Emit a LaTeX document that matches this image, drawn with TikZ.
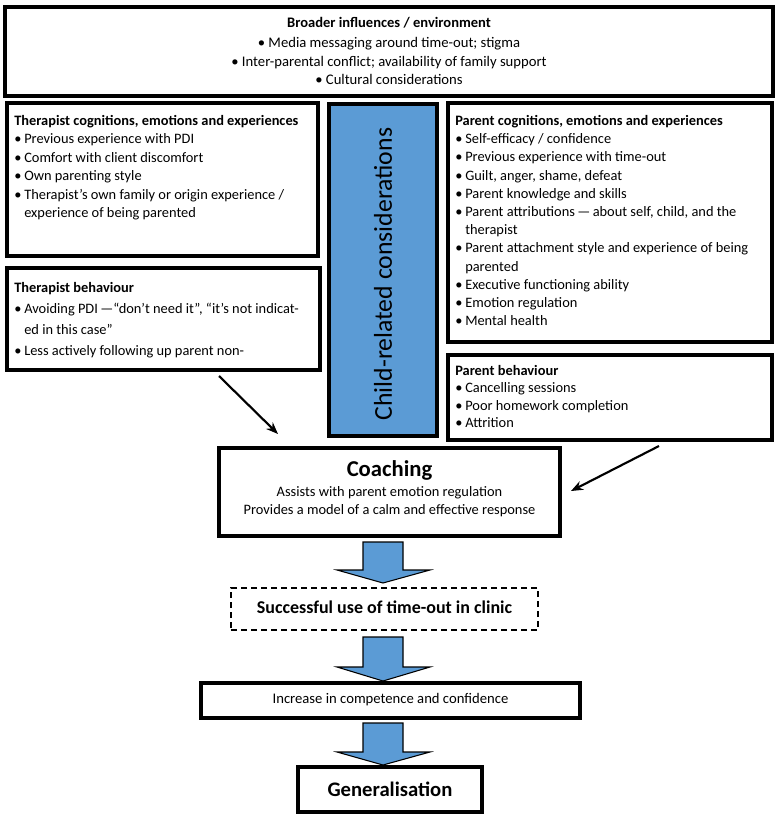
\documentclass[tikz,border=0pt]{standalone}
\usepackage{fontspec}
\setmainfont{Carlito}
\usetikzlibrary{arrows.meta,fit}
\definecolor{cblue}{RGB}{91,155,213}
\newcommand{\bul}{\makebox[7.5pt][l]{\textbullet}}
\newcommand{\ind}{\hspace*{7.5pt}}
\begin{document}
\begin{tikzpicture}[x=0.75pt,y=-0.75pt]
\useasboundingbox (0,0) rectangle (779,819);
\tikzset{
  frame/.style={draw=black, line width=3pt, inner sep=0pt},
  thinframe/.style={draw=black, line width=2.3pt, inner sep=0pt},
  dashframe/.style={draw=black, line width=1pt, dashed, dash pattern=on 4.5pt off 3pt, inner sep=0pt},
  listtxt/.style={anchor=north west, inner sep=0pt, align=left, font=\fontsize{10.8}{13.8}\selectfont},
  ctxt/.style={inner sep=0pt, align=center},
  conn/.style={line width=1.6pt, -{Stealth[length=9pt,width=7pt]}},
  blockarrow/.style={fill=cblue, draw=black, line width=0.8pt, line join=miter}
}
% top box
\node[frame, line width=3.2pt, fit={(5,7) (773,96)}] (broad) {};
\node[ctxt, font=\fontsize{10.9}{13.5}\bfseries] (broadtitle) at (389,23) {Broader influences / environment};
\node[ctxt, font=\fontsize{11}{13.65}\selectfont] (broadtxt) at (389,61)
  {\textbullet\ Media messaging around time-out; stigma\\
   \textbullet\ Inter-parental conflict; availability of family support\\
   \textbullet\ Cultural considerations};

% therapist cognitions
\node[frame, fit={(7,103) (318,256)}] (tc) {};
\node[listtxt] (tctxt) at (14,115)
  {\textbf{Therapist cognitions, emotions and experiences}\\
   \bul Previous experience with PDI\\
   \bul Comfort with client discomfort\\
   \bul Own parenting style\\
   \bul Therapist’s own family or origin experience /\\
   \ind experience of being parented};

% therapist behaviour
\node[frame, fit={(7,268) (320,370)}] (tb) {};
\node[listtxt, font=\fontsize{10.8}{15.75}\selectfont] (tbtxt) at (14,282)
  {\textbf{Therapist behaviour}\\
   \bul Avoiding PDI\,—“don’t need it”, “it’s not indicat-\\
   \ind ed in this case”\\
   \bul Less actively following up parent non-};

% child-related
\node[frame, fill=cblue, fit={(329,104) (437,436)}] (child) {};
\node[ctxt, rotate=90, font=\fontsize{19.3}{22}\selectfont] (childtxt) at (383,274) {Child-related considerations};

% parent cognitions
\node[frame, fit={(448,103) (772,342)}] (pc) {};
\node[listtxt, font=\fontsize{10.8}{13.65}\selectfont] (pctxt) at (455,115)
  {\textbf{Parent cognitions, emotions and experiences}\\
   \bul Self-efficacy / confidence\\
   \bul Previous experience with time-out\\
   \bul Guilt, anger, shame, defeat\\
   \bul Parent knowledge and skills\\
   \bul Parent attributions\,—\,about self, child, and the\\
   \ind therapist\\
   \bul Parent attachment style and experience of being\\
   \ind parented\\
   \bul Executive functioning ability\\
   \bul Emotion regulation\\
   \bul Mental health};

% parent behaviour
\node[frame, fit={(448,355) (772,440)}] (pb) {};
\node[listtxt, font=\fontsize{10.8}{13}\selectfont] (pbtxt) at (455,365)
  {\textbf{Parent behaviour}\\
   \bul Cancelling sessions\\
   \bul Poor homework completion\\
   \bul Attrition};

% coaching
\node[frame, fit={(219,448) (560,536)}] (coach) {};
\node[ctxt, font=\fontsize{17}{20}\bfseries] (coachtitle) at (389.5,470) {Coaching};
\node[ctxt, font=\fontsize{10.8}{13.5}\selectfont] (coachl1) at (389.5,493) {Assists with parent emotion regulation};
\node[ctxt, font=\fontsize{10.8}{13.5}\selectfont] (coachl2) at (389.5,511) {Provides a model of a calm and effective response};

% thin arrows
\coordinate (tbout) at (219,376);
\coordinate (coachinL) at (278,434);
\draw[conn] (tbout) -- (coachinL);
\coordinate (pbout) at (659,446);
\coordinate (coachinR) at (571,491);
\draw[conn] (pbout) -- (coachinR);

% block arrow 1
\draw[blockarrow] (363,542) -- (403,542) -- (403,570) -- (430,570) -- (383,583) -- (337,570) -- (363,570) -- cycle;

% successful
\node[dashframe, fit={(231,588) (538,630)}] (succ) {};
\node[ctxt, font=\fontsize{13.5}{16}\bfseries] (succtxt) at (384.5,607) {Successful use of time-out in clinic};

% block arrow 2
\draw[blockarrow] (363,637) -- (403,637) -- (403,667) -- (430,667) -- (383,681) -- (337,667) -- (363,667) -- cycle;

% increase
\node[thinframe, fit={(201,683) (580,718)}] (incr) {};
\node[ctxt, font=\fontsize{11}{13}\selectfont] (incrtxt) at (390.5,700) {Increase in competence and confidence};

% block arrow 3
\draw[blockarrow] (363,723) -- (403,723) -- (403,752) -- (430,752) -- (383,765) -- (337,752) -- (363,752) -- cycle;

% generalisation
\node[frame, fit={(298,767) (482,812)}] (gen) {};
\node[ctxt, font=\fontsize{15.5}{18}\bfseries] (gentxt) at (390,789) {Generalisation};
\end{tikzpicture}
\end{document}
